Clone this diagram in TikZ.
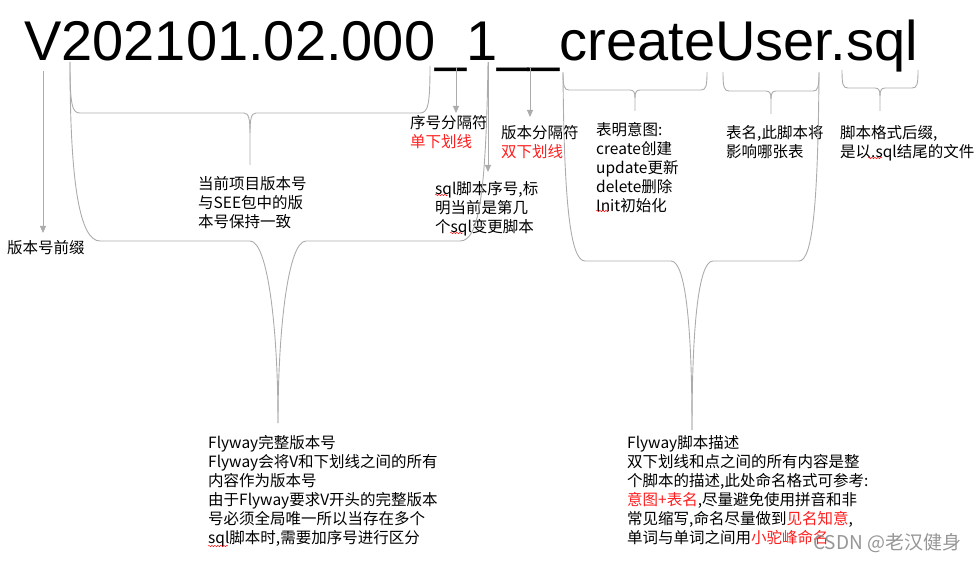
\documentclass[tikz,border=0pt]{standalone}
\usepackage{fontspec}
\setmainfont{Noto Sans CJK SC}
\newfontfamily\titlefont{Liberation Sans}
\usetikzlibrary{arrows.meta,decorations.pathmorphing}
\definecolor{linegray}{RGB}{172,172,172}
\definecolor{txtred}{RGB}{255,30,30}
\definecolor{wmgray}{RGB}{150,150,150}
\tikzset{
  bracepath/.style={draw=linegray, line width=0.9pt},
  pointer/.style={draw=linegray, line width=0.9pt, -{Triangle[width=6pt,length=7pt]}},
  note/.style={anchor=north west, inner sep=0pt, align=left, font=\fontsize{15.5}{19}\selectfont},
  squiggle/.style={draw=red, line width=0.45pt, decorate, decoration={snake, amplitude=0.7pt, segment length=3pt}},
}
\begin{document}
\begin{tikzpicture}[x=1pt,y=-1pt]
\useasboundingbox (0,0) rectangle (979,561);

% title
\node[anchor=base west, inner sep=0pt, font=\titlefont\fontsize{56}{56}\selectfont] (title) at (24,61) {V202101.02.000\_1\_\_createUser.sql};

% text blocks
\node[note] (prefix) at (7,240) {版本号前缀};
\node[note] (curver) at (198,176) {当前项目版本号\\与SEE包中的版\\本号保持一致};
\node[note] (sep1) at (410,115) {序号分隔符\\{\color{txtred}单下划线}};
\node[note] (seqno) at (435,181) {sql脚本序号,标\\明当前是第几\\个sql变更脚本};
\node[note] (sep2) at (501,125) {版本分隔符\\{\color{txtred}双下划线}};
\node[note] (intent) at (596,122) {表明意图:\\create创建\\update更新\\delete删除\\Init初始化};
\node[note] (table) at (726,125) {表名,此脚本将\\影响哪张表};
\node[note] (suffix) at (840,125) {脚本格式后缀,\\是以.sql结尾的文件};
\node[note] (flyver) at (208,435) {Flyway完整版本号\\Flyway会将V和下划线之间的所有\\内容作为版本号\\由于Flyway要求V开头的完整版本\\号必须全局唯一所以当存在多个\\sql脚本时,需要加序号进行区分};
\node[note] (flydesc) at (627,435) {Flyway脚本描述\\双下划线和点之间的所有内容是整\\个脚本的描述,此处命名格式可参考:\\{\color{txtred}意图+表名},尽量避免使用拼音和非\\常见缩写,命名尽量做到{\color{txtred}见名知意},\\单词与单词之间用{\color{txtred}小驼峰命名}};
\node[anchor=west, inner sep=0pt, text=wmgray, font=\fontsize{19}{19}\selectfont] (mark) at (813,543) {CSDN @老汉健身};

% arrows
\coordinate (vA) at (43,71);   \coordinate (vB) at (43,233);
\coordinate (sA) at (456,67);  \coordinate (sB) at (456,113);
\coordinate (nA) at (488,62);  \coordinate (nB) at (488,172);
\coordinate (dA) at (530,68);  \coordinate (dB) at (530,117);
\draw[pointer] (vA) -- (vB);
\draw[pointer] (sA) -- (sB);
\draw[pointer] (nA) -- (nB);
\draw[pointer] (dA) -- (dB);

% brace under 202101.02.000
\draw[bracepath] (70,62) .. controls (70,105) and (72,113) .. (80,113) -- (244,113)
  .. controls (249,113) and (250,120) .. (250,133) -- (250,165);
\draw[bracepath] (250,133) .. controls (250,120) and (251,113) .. (256,113) -- (420,113)
  .. controls (428,113) and (430,105) .. (430,66);

% brace under create
\draw[bracepath] (563,72) .. controls (563,86) and (564,90) .. (569,90) -- (630,90)
  .. controls (634,90) and (635,93) .. (635,98) -- (635,111);
\draw[bracepath] (635,98) .. controls (635,93) and (636,90) .. (640,90) -- (701,90)
  .. controls (706,90) and (707,86) .. (707,72);

% brace under User
\draw[bracepath] (723,72) .. controls (723,87) and (724,91) .. (729,91) -- (766,91)
  .. controls (770,91) and (771,94) .. (771,99) -- (771,114);
\draw[bracepath] (771,99) .. controls (771,94) and (772,91) .. (776,91) -- (813,91)
  .. controls (818,91) and (819,87) .. (819,72);

% brace under .sql
\draw[bracepath] (842,70) .. controls (842,85) and (843,88) .. (848,88) -- (875,88)
  .. controls (879,88) and (880,91) .. (880,96) -- (880,111);
\draw[bracepath] (880,96) .. controls (880,91) and (881,88) .. (885,88) -- (912,88)
  .. controls (917,88) and (918,85) .. (918,70);

% big brace left
\draw[bracepath] (70,62) .. controls (70,185) and (80,241) .. (100,241) -- (250,241)
  .. controls (268,241) and (278,330) .. (278,423);
\draw[bracepath] (278,423) .. controls (278,330) and (288,241) .. (306,241) -- (460,241)
  .. controls (478,241) and (486,200) .. (488,62);

% big brace right
\draw[bracepath] (563,73) .. controls (564,200) and (570,261) .. (585,261) -- (671,261)
  .. controls (686,261) and (692,330) .. (692,430);
\draw[bracepath] (692,430) .. controls (692,330) and (698,261) .. (713,261) -- (799,261)
  .. controls (813,261) and (818,200) .. (819,73);

% spell-check squiggles
\draw[squiggle] (435,195) -- (448,195);
\draw[squiggle] (450,233) -- (463,233);
\draw[squiggle] (596,211) -- (609,211);
\draw[squiggle] (868,158) -- (882,158);
\draw[squiggle] (208,546) -- (228,546);
\end{tikzpicture}
\end{document}
